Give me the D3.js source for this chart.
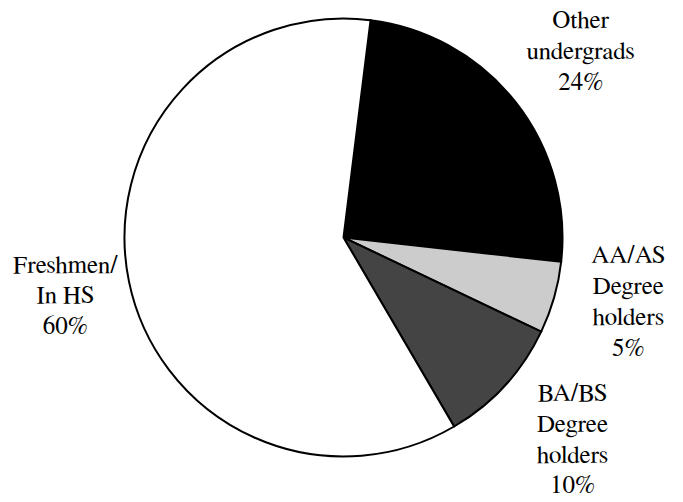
<!DOCTYPE html>
<html lang="en">
<head>
<meta charset="utf-8" />
<title>Student pie</title>
<style>
html,body{margin:0;background:#fff}
svg{display:block}
</style>
<script src="https://cdn.jsdelivr.net/npm/d3@7/dist/d3.min.js"></script>
</head>
<body>
<div id="chart"></div>
<script>
/* ---------------- data ---------------- */
const categories = ["Other undergrads", "AA/AS Degree holders", "BA/BS Degree holders", "Freshmen/ In HS"];
const values     = [24.8, 5.3, 9.5, 60.4];
const pctLabels  = ["24%", "5%", "10%", "60%"];
const labelLines = [["Other", "undergrads"], ["AA/AS", "Degree", "holders"], ["BA/BS", "Degree", "holders"], ["Freshmen/", "In HS"]];
const fills      = ["#000000", "#cccccc", "#444444", "#ffffff"];

/* ---------------- layout ---------------- */
const width = 683, height = 502;
const cx = 343.5, cy = 237.5, r = 219;
const labelR   = [302, 292, 300, 284];
const labelDx  = [0, 4, 8, 0];
const labelDy  = [0, -17, -2, 0];
const lineH = 30.8;

const svg = d3.select("#chart").append("svg")
  .attr("width", width).attr("height", height);

const g = svg.append("g").attr("transform", `translate(${cx},${cy})`);

const startA = 7.1 * Math.PI / 180;
const pie = d3.pie().sort(null).value(d => d)
  .startAngle(startA).endAngle(startA + 2 * Math.PI);
const arcs = pie(values);

const arc = d3.arc().innerRadius(0).outerRadius(r);

g.selectAll("path.slice").data(arcs).enter().append("path")
  .attr("class", "slice")
  .attr("d", arc)
  .attr("fill", (d, i) => fills[i])
  .attr("stroke", "#000")
  .attr("stroke-width", 2)
  .attr("stroke-linejoin", "miter");

/* ---------------- labels ---------------- */
arcs.forEach((d, i) => {
  const a = (d.startAngle + d.endAngle) / 2;
  const x = labelR[i] * Math.sin(a) + labelDx[i];
  const y = -labelR[i] * Math.cos(a) + labelDy[i];
  const lines = labelLines[i].concat([pctLabels[i]]);
  const t = g.append("text")
    .style("font-family", '"FreeSerif", "Liberation Serif", serif')
    .style("font-size", "25px")
    .attr("fill", "#000")
    .attr("text-anchor", "middle")
    .attr("transform", `translate(${x},${y})`);
  const top = -(lines.length - 1) / 2 * lineH + 8.75;
  lines.forEach((s, k) => {
    t.append("tspan").attr("x", 0).attr("y", top + k * lineH).text(s);
  });
});
</script>
</body>
</html>
